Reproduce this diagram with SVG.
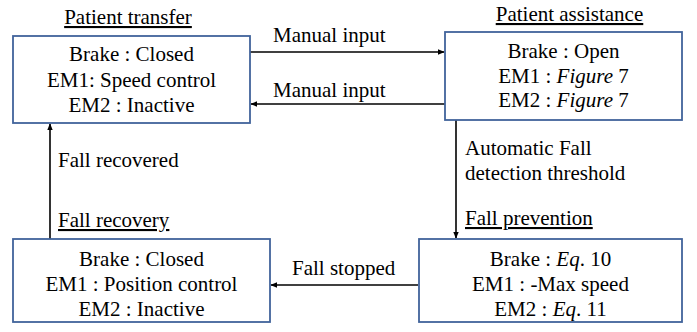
<svg xmlns="http://www.w3.org/2000/svg" width="697" height="332" viewBox="0 0 697 332" font-family="'Liberation Serif', 'Times New Roman', serif">
<defs>
<marker id="ah" viewBox="0 0 10 10" refX="9" refY="5" markerWidth="7" markerHeight="7" markerUnits="userSpaceOnUse" orient="auto">
<path d="M0,1 L10,5 L0,9 Z" fill="#000"/>
</marker>
<style>
text{font-family:'Liberation Serif','Times New Roman',serif;font-size:21px;fill:#000}
.c{text-anchor:middle}
.t{text-decoration:underline}
.m{font-style:italic}
.box{fill:#fff;stroke:#41639B;stroke-width:1.8}
.conn{stroke:#000;stroke-width:1.6;fill:none;marker-end:url(#ah)}
</style>
</defs>
<rect width="697" height="332" fill="#fff"/>
<g id="connectors">
<line class="conn" x1="250" y1="52" x2="444" y2="52"/>
<line class="conn" x1="445" y1="104" x2="251" y2="104"/>
<line class="conn" x1="456" y1="120" x2="456" y2="238"/>
<line class="conn" x1="418" y1="285" x2="271" y2="285"/>
<line class="conn" x1="50" y1="239" x2="50" y2="124"/>
<text x="273" y="42">Manual input</text>
<text x="273" y="97">Manual input</text>
<text x="465" y="155">Automatic Fall</text>
<text x="465" y="180">detection threshold</text>
<text x="292" y="275">Fall stopped</text>
<text x="58" y="167">Fall recovered</text>
</g>
<g id="patient-transfer">
<text class="c t" x="128" y="24">Patient transfer</text>
<rect class="box" x="13" y="36" width="237" height="87"/>
<text class="c" x="131.5" y="61">Brake : Closed</text>
<text class="c" x="131.5" y="87">EM1: Speed control</text>
<text class="c" x="131.5" y="112">EM2 : Inactive</text>
</g>
<g id="patient-assistance">
<text class="c t" x="569.5" y="21">Patient assistance</text>
<rect class="box" x="445" y="32" width="237" height="88"/>
<text class="c" x="563.5" y="58">Brake : Open</text>
<text class="c" x="563.5" y="83">EM1 : <tspan class="m">Figure</tspan> 7</text>
<text class="c" x="563.5" y="107">EM2 : <tspan class="m">Figure</tspan> 7</text>
</g>
<g id="fall-prevention">
<text class="t" x="465" y="225">Fall prevention</text>
<rect class="box" x="419" y="239" width="263" height="83"/>
<text class="c" x="550.5" y="266">Brake : <tspan class="m">Eq</tspan>. 10</text>
<text class="c" x="550.5" y="291">EM1 : -Max speed</text>
<text class="c" x="550.5" y="316">EM2 : <tspan class="m">Eq</tspan>. 11</text>
</g>
<g id="fall-recovery">
<text class="t" x="58" y="227">Fall recovery</text>
<rect class="box" x="13" y="239" width="257" height="83"/>
<text class="c" x="141.5" y="266">Brake : Closed</text>
<text class="c" x="141.5" y="291">EM1 : Position control</text>
<text class="c" x="141.5" y="316">EM2 : Inactive</text>
</g>
</svg>
